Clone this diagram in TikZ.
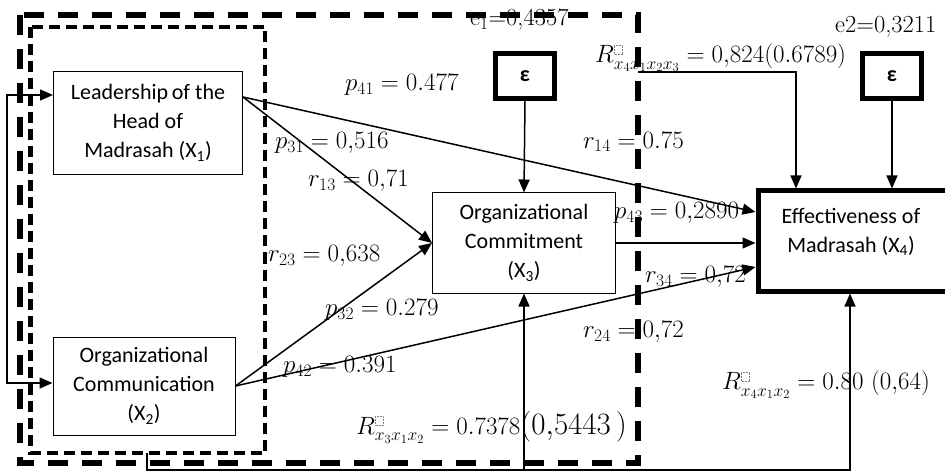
\RequirePackage{fix-cm}
\documentclass[tikz,border=0pt]{standalone}
\usepackage{fontspec}
\newfontfamily\boxfont{Carlito}
\usetikzlibrary{arrows.meta}

% empty dotted placeholder used as superscript of R
\newcommand{\phbox}{\tikz[baseline=0pt,x=1pt,y=1pt]\draw[densely dotted,line width=0.5pt,gray] (0,0) rectangle (8,9);}

\begin{document}
\begin{tikzpicture}[x=1pt,y=-1pt,
  >={Triangle[length=13pt,width=11pt]},
  varbox/.style={draw, line width=1pt, inner sep=0pt, align=center,
    font=\boxfont\fontsize{22}{29}\selectfont},
  heavybox/.style={draw, line width=5pt, inner sep=0pt},
  boxtext/.style={inner sep=0pt, align=center, font=\boxfont\fontsize{22}{29}\selectfont},
  epsbox/.style={draw, line width=5pt, inner sep=0pt, minimum width=59pt,
    minimum height=45pt, font=\boxfont\bfseries\fontsize{22}{22}\selectfont},
  arr/.style={line width=1.5pt, ->},
  lbl/.style={anchor=west, inner sep=0pt, font=\fontsize{25}{28}\selectfont},
  elbl/.style={anchor=west, inner sep=0pt, font=\fontsize{24.5}{26}\selectfont},
  outerdash/.style={line width=5.5pt, dash pattern=on 20pt off 14pt},
  innerdash/.style={line width=4.5pt, dash pattern=on 11pt off 6pt},
]
\useasboundingbox (0,0) rectangle (945,473);

% variables
\node[varbox, minimum width=189pt, minimum height=103pt] (x1) at (148,123)
  {Leadership\,of the\\Head of\\Madrasah (X\textsubscript{1})};
\node[varbox, minimum width=182pt, minimum height=98pt] (x2) at (144,386)
  {Organizational\\Communication\\(X\textsubscript{2})};
\node[varbox, minimum width=183pt, minimum height=100pt] (x3) at (524,243)
  {Organizational\\Commitment\\(X\textsubscript{3})};
\node[heavybox, minimum width=190pt, minimum height=100pt] (x4) at (853,241) {};
\node[boxtext] (x4text) at (851,232) {Effectiveness of\\Madrasah (X\textsubscript{4})};

% residual terms
\node[epsbox] (e1) at (525,76) {ε};
\node[epsbox] (e2) at (892,76) {ε};

% paths
\draw[arr] ([yshift=26pt]x1.east) -- (x3.west);
\draw[arr] (x2.east) -- (x3.west);
\draw[arr] ([yshift=26pt]x1.east) -- ([yshift=29pt]x4.west);
\draw[arr] (x3.east) -- (x3.east -| x4.west);
\draw[arr] (x2.east) -- ([yshift=-26pt]x4.west);
\draw[arr] (e1.south) -- (x3.north);
\draw[arr] (e2.south) -- (e2.south |- x4.north);

% correlation between X1 and X2
\draw[line width=1.5pt, <->] ([yshift=28pt]x1.west) -- ++(-46,0) |- ([yshift=3pt]x2.west);

% R-square leads
\coordinate (rstart) at (638,72);
\draw[arr] (rstart) -| ([xshift=-57pt]x4.north);
\coordinate (fbtop) at (147,453);
\coordinate (fbbot) at (147,470);
\draw[arr] (fbtop) -- (fbbot) -| ([xshift=-3pt]x4.south);
\draw[arr] (x3.south |- fbbot) -- (x3.south);

% coefficients
\node[lbl] (lp41) at (345,85) {$p_{41} = 0.477$};
\node[lbl] (lp31) at (275,143) {$p_{31} = 0{,}516$};
\node[lbl] (lr13) at (308,181) {$r_{13} = 0{,}71$};
\node[lbl] (lr23) at (268,256) {$r_{23} = 0{,}638$};
\node[lbl] (lp32) at (325,310) {$p_{32} = 0.279$};
\node[lbl] (lp42) at (283,367) {$p_{42} = 0.391$};
\node[lbl] (lr3) at (356,427) {$R^{\phbox}_{x_3x_1x_2} = 0.7378$\fontsize{31}{32}\selectfont$(0{,}5443\,)$};
\node[elbl] (le1) at (470,20) {e\textsubscript{1}=0,4357};
\node[lbl] (lr14) at (583,142) {$r_{14} = 0.75$};
\node[lbl] (lp43) at (614,213) {$p_{43} = 0{,}2890$};
\node[lbl] (lr34) at (645,277) {$r_{34} = 0{,}72$};
\node[lbl] (lr24) at (583,332) {$r_{24} = 0{,}72$};
\node[lbl] (lr4) at (722,385) {$R^{\phbox}_{x_4x_1x_2} = 0.80\ (0{,}64)$};
\node[elbl] (le2) at (835,27) {e2=0,3211};
\node[lbl] (lr4b) at (595,58) {$R^{\phbox}_{x_4x_1x_2x_3} = 0{,}824(0.6789)$};

% dashed groupings
\draw[outerdash] (20,15) rectangle (638,463);
\draw[innerdash] (30.5,27) rectangle (265,453);
\end{tikzpicture}
\end{document}
